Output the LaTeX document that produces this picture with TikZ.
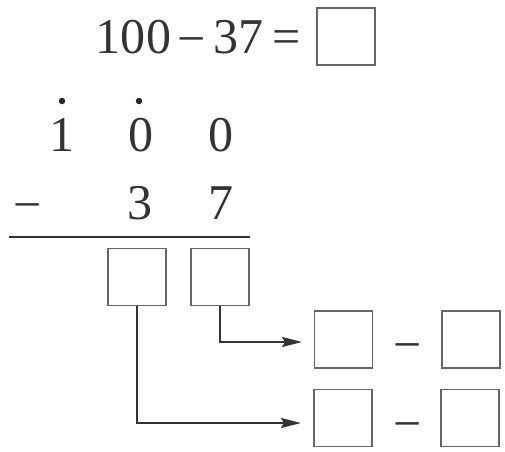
\documentclass[tikz,border=0pt]{standalone}
\usepackage{fontspec}
\setmainfont{Liberation Serif}
\usetikzlibrary{arrows.meta, positioning}

\begin{document}
\begin{tikzpicture}[x=0.02cm, y=-0.02cm,
    num/.style={inner sep=0pt, text=black!80, font=\fontsize{28.5}{34}\selectfont},
    box/.style={draw=black!60, line width=0.6pt, minimum width=1.16cm, minimum height=1.14cm, inner sep=0pt},
    arr/.style={draw=black!80, line width=1.1pt, -{Stealth[length=0.4cm, width=0.2cm, inset=0.06cm]}}]
    \useasboundingbox (0,0) rectangle (505,451);

    % the sum on top
    \node[num] (a) at (133.5,37.5) {100};
    \node[num] (m) at (192,47) {−};
    \node[num] (b) at (239,37.5) {37};
    \node[num] (eq) at (287,42) {=};
    \node[box, minimum height=1.14cm] (res) at (346,36.5) {};

    % written in columns
    \node[num] (d1) at (62,135) {1};
    \node[num] (d2) at (141,135) {0};
    \node[num] (d3) at (221,135) {0};
    \fill[black!85] (62,101) circle (0.065cm)
                    (139,101) circle (0.065cm);

    \node[num] (mm) at (28,213) {−};
    \node[num] (e2) at (140,203.5) {3};
    \node[num] (e3) at (221,203.5) {7};

    \path[draw, black!80, line width=1.1pt] (9,237) -- (250,237);

    \node[box] (b1) at (137,277) {};
    \node[box] (b2) at (220,277) {};

    % the two smaller sums
    \node[box] (r1a) at (343.5,339.5) {};
    \node[num] (r1m) at (408,353) {−};
    \node[box] (r1b) at (471,339.5) {};

    \node[box] (r2a) at (343,418) {};
    \node[num] (r2m) at (408,432) {−};
    \node[box] (r2b) at (470,418) {};

    \coordinate (t1) at (302,342);
    \coordinate (t2) at (301,423);
    \draw[arr] (b2.south) |- (t1);
    \draw[arr] (b1.south) |- (t2);
\end{tikzpicture}
\end{document}
